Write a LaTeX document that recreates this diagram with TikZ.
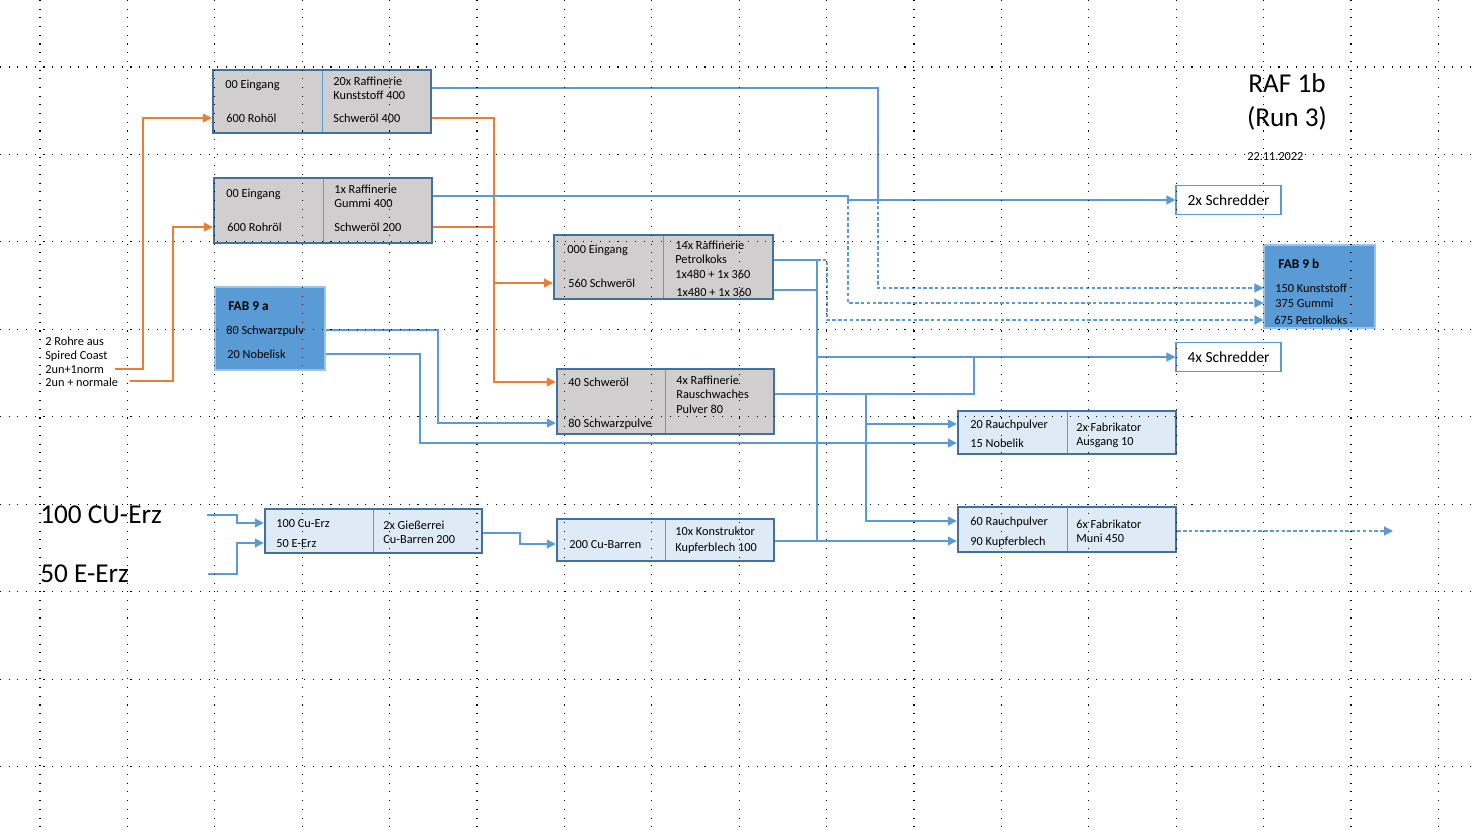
\documentclass[tikz,border=0pt]{standalone}
\usepackage{fontspec}
\setmainfont{Carlito}
\usetikzlibrary{arrows.meta}
\definecolor{boxgray}{HTML}{D0CECE}
\definecolor{boxedge}{HTML}{41719C}
\definecolor{linkblue}{HTML}{5B9BD5}
\definecolor{flowor}{HTML}{ED7D31}
\definecolor{paleblue}{HTML}{DEEBF7}
\definecolor{fabedge}{HTML}{9DC3E6}
\begin{document}
\begin{tikzpicture}[x=0.02cm,y=-0.02cm,font=\fontsize{7}{8.4}\selectfont,
  box/.style 2 args={minimum width=#1*0.02cm,minimum height=#2*0.02cm,inner sep=0pt},
  split/.style={path picture={\draw[linkblue,line width=0.5pt](path picture bounding box.north)--(path picture bounding box.south);}},
  graybox/.style={draw=boxedge,line width=1.4pt,fill=boxgray,split},
  palebox/.style={draw=boxedge,line width=1.4pt,fill=paleblue,split},
  fabbox/.style={draw=fabedge,line width=0.6pt,fill=linkblue},
  schredbox/.style={draw=linkblue,line width=0.6pt,fill=white,font=\fontsize{8.8}{10}\selectfont},
  txt/.style={anchor=west,inner sep=0pt,text height=0.7em,text depth=0.2em},
  fabtitle/.style={txt,font=\fontsize{7.6}{9}\selectfont\bfseries},
  big/.style={anchor=base,inner sep=0pt,font=\fontsize{15.5}{18}\selectfont},
  link/.style={linkblue,line width=0.7pt},
  flow/.style={link,-{Triangle[length=1.8mm,width=1.8mm]}},
  oflow/.style={flowor,line width=0.8pt,-{Triangle[length=1.8mm,width=1.8mm]}},
  dashed/.style={dash pattern=on 2pt off 1.3pt},
  gridline/.style={black,line width=0.6pt,dash pattern=on 0.6pt off 4.35pt}]
\useasboundingbox (0,0) rectangle (1477,829);
\node[graybox,box={218}{63}] (rafA) at (322,101.5) {};
\node[txt] (aIn) at (225,84) {00 Eingang};
\node[txt] (aOil) at (226,118) {600 Rohöl};
\node[txt] (aT1) at (333,81) {20x Raffinerie};
\node[txt] (aT2) at (333,95) {Kunststoff 400};
\node[txt] (aOut) at (333,118) {Schweröl 400};
\node[graybox,box={218}{65}] (rafB) at (323,210.5) {};
\node[txt] (bIn) at (226,193) {00 Eingang};
\node[txt] (bOil) at (227,227) {600 Rohröl};
\node[txt] (bT1) at (334,189) {1x Raffinerie};
\node[txt] (bT2) at (334,203) {Gummi 400};
\node[txt] (bOut) at (334,227) {Schweröl 200};
\node[graybox,box={219}{64}] (rafC) at (663.5,267) {};
\node[txt] (cIn1) at (567,249) {000 Eingang};
\node[txt] (cIn2) at (568,283) {560 Schweröl};
\node[txt] (cT1) at (675,245) {14x Raffinerie};
\node[txt] (cT2) at (675,259) {Petrolkoks};
\node[txt] (cT3) at (675,274) {1x480 + 1x 360};
\node[txt] (cT4) at (676,292) {1x480 + 1x 360};
\node[graybox,box={217}{65}] (rafD) at (665.5,401.5) {};
\node[txt] (dIn1) at (568,382) {40 Schweröl};
\node[txt] (dIn2) at (568,423) {80 Schwarzpulve};
\node[txt] (dT1) at (676,380) {4x Raffinerie};
\node[txt] (dT2) at (676,394) {Rauschwaches};
\node[txt] (dT3) at (676,409) {Pulver 80};
\node[fabbox,box={110}{83}] (fab9a) at (270,328.5) {};
\node[fabtitle] (fa1) at (228,306) {FAB 9 a};
\node[txt] (fa2) at (226,330) {80 Schwarzpulv};
\node[txt] (fa3) at (227,354) {20 Nobelisk};
\node[fabbox,box={111}{83}] (fab9b) at (1319.5,286.5) {};
\node[fabtitle] (g1) at (1278,264) {FAB 9 b};
\node[txt] (g2) at (1275,288) {150 Kunststoff};
\node[txt] (g3) at (1275,303) {375 Gummi};
\node[txt] (g4) at (1274,320) {675 Petrolkoks};
\node[palebox,box={218}{43}] (boxE) at (1067,432.5) {};
\node[txt] (eIn1) at (970,424) {20 Rauchpulver};
\node[txt] (eIn2) at (970,443) {15 Nobelik};
\node[txt] (eT1) at (1076,427) {2x Fabrikator};
\node[txt] (eT2) at (1076,441) {Ausgang 10};
\node[palebox,box={218}{45}] (boxF) at (1067,529.5) {};
\node[txt] (fIn1) at (970,521) {60 Rauchpulver};
\node[txt] (fIn2) at (970,541) {90 Kupferblech};
\node[txt] (fT1) at (1076,524) {6x Fabrikator};
\node[txt] (fT2) at (1076,538) {Muni 450};
\node[palebox,box={217}{44}] (giess) at (373.5,531) {};
\node[txt] (gIn1) at (276,523) {100 Cu-Erz};
\node[txt] (gIn2) at (276,543) {50 E-Erz};
\node[txt] (gT1) at (383,525) {2x Gießerrei};
\node[txt] (gT2) at (383,539) {Cu-Barren 200};
\node[palebox,box={217}{42}] (konst) at (665.5,540) {};
\node[txt] (hIn) at (569,544) {200 Cu-Barren};
\node[txt] (hT1) at (675,531) {10x Konstruktor};
\node[txt] (hT2) at (675,547) {Kupferblech 100};
\node[schredbox,box={105}{29}] (schred2) at (1228.5,200) {2x Schredder};
\node[schredbox,box={105}{29}] (schred4) at (1228.5,357) {4x Schredder};
\node[txt] (r1) at (45,341) {2 Rohre aus};
\node[txt] (r2) at (45,355) {Spired Coast};
\node[txt] (r3) at (45,369) {2un+1norm};
\node[txt] (r4) at (45,382) {2un + normale};
\node[big,anchor=base west] (cuerz) at (40,523) {100 CU-Erz};
\node[big,anchor=base west] (eerz) at (40,582) {50 E-Erz};
\node[big] (raf) at (1287,92) {RAF 1b};
\node[big] (run) at (1287,126) {(Run 3)};
\node[txt] (date) at (1247,156) {22.11.2022};
\coordinate (o1) at (115,369);
\coordinate (o2) at (130,381);
\coordinate (cu0) at (207,515);
\coordinate (ee0) at (208,574);
\coordinate (muniend) at (1393,531);
\draw[oflow] (o1) -| (143,118) -- (rafA.west |- aOil);
\draw[oflow] (o2) -| (173,227) -- (rafB.west |- bOil);
\draw[oflow] (rafA.east |- aOut) -| (494,382) -- (rafD.west |- dIn1);
\draw[oflow] (rafB.east |- bOut) -| (494,283) -- (rafC.west |- cIn2);
\draw[link] (rafA.east |- 0,88) -| (878,200);
\draw[flow] (rafB.east |- 0,196) -| (848,200) -- (schred2.west);
\draw[flow,dashed] (878,200) |- (fab9b.west |- g2);
\draw[flow,dashed] (848,200) |- (fab9b.west |- g3);
\draw[link] (rafC.east |- 0,260) -- (817,260) -- (817,541);
\draw[link] (rafC.east |- 0,290) -- (817,290);
\draw[flow] (817,357) -- (schred4.west);
\draw[flow,dashed] (817,260) -- (827,260) |- (fab9b.west |- g4);
\draw[link] (rafD.east |- dT2) -| (974,357);
\draw[flow] (866,394) |- (boxE.west |- eIn1);
\draw[flow] (866,423) |- (boxF.west |- fIn1);
\draw[flow] (fab9a.east |- fa2) -| (438,423) -- (rafD.west |- dIn2);
\draw[flow] (fab9a.east |- fa3) -| (420,443) -- (boxE.west |- eIn2);
\draw[flow] (konst.east |- 0,541) -- (boxF.west |- fIn2);
\draw[flow] (giess.east |- 0,533) -| (520,544) -- (konst.west |- hIn);
\draw[flow] (cu0) -| (237,523) -- (giess.west |- gIn1);
\draw[flow] (ee0) -| (237,543) -- (giess.west |- gIn2);
\draw[flow,dashed] (boxF.east |- 0,531) -- (muniend);
\foreach \k in {0,...,8}
  \draw[gridline] (0,{67+87.45*\k}) -- (1477,{67+87.45*\k});
\foreach \k in {0,...,16}
  \draw[gridline] ({40+87.4*\k},0) -- ({40+87.4*\k},829);
\end{tikzpicture}
\end{document}
